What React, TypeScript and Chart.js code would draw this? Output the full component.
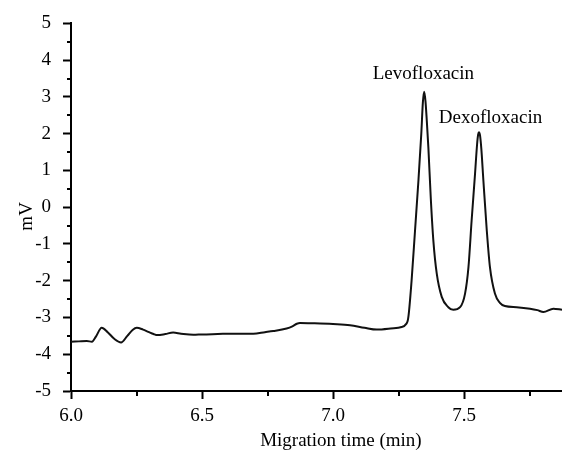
import React, { useEffect, useRef } from "react";
import { Chart, registerables } from "chart.js";

Chart.register(...registerables);

// Migration time (min)
const times: number[] = [
  6.0, 6.03, 6.06, 6.08, 6.095, 6.117, 6.14, 6.165, 6.191, 6.215, 6.235, 6.251,
  6.275, 6.295, 6.315, 6.33, 6.36, 6.39, 6.42, 6.467, 6.5, 6.56, 6.62, 6.696,
  6.74, 6.772, 6.823, 6.845, 6.862, 6.874, 6.93, 7.0, 7.065, 7.12, 7.167, 7.22,
  7.262, 7.276, 7.287, 7.3, 7.313, 7.326, 7.337, 7.343, 7.348, 7.353, 7.358, 7.364,
  7.373, 7.383, 7.396, 7.415, 7.44, 7.459, 7.485, 7.504, 7.517, 7.529, 7.542,
  7.55, 7.554, 7.557, 7.561, 7.566, 7.574, 7.587, 7.599, 7.618, 7.637, 7.656,
  7.701, 7.752, 7.78, 7.803, 7.841, 7.874,
];
// Signal (mV)
const signal: number[] = [
  -3.66, -3.65, -3.64, -3.66, -3.52, -3.28, -3.4, -3.58, -3.68, -3.5, -3.34, -3.28,
  -3.33, -3.39, -3.45, -3.48, -3.45, -3.41, -3.44, -3.47, -3.46, -3.45, -3.44, -3.44,
  -3.4, -3.37, -3.3, -3.24, -3.17, -3.15, -3.16, -3.18, -3.21, -3.28, -3.33, -3.3,
  -3.26, -3.2, -3.02, -1.99, -0.64, 0.72, 2.0, 2.85, 3.14, 2.88, 2.35, 1.62,
  0.27, -0.91, -1.81, -2.44, -2.72, -2.79, -2.72, -2.35, -1.63, -0.37, 0.9,
  1.72, 1.98, 2.04, 1.96, 1.6, 0.72, -0.64, -1.63, -2.35, -2.6, -2.69,
  -2.72, -2.76, -2.8, -2.85, -2.76, -2.79,
];

const peakNames: string[] = ["Levofloxacin", "Dexofloxacin"];
const peakLabelX: number[] = [7.345, 7.601];
const peakLabelY: number[] = [3.48, 2.3];

const X_MIN = 6.0;
const X_MAX = 7.874;
const Y_MIN = -5;
const Y_MAX = 5;
const X_TITLE = "Migration time (min)";
const Y_TITLE = "mV";

const FONT = "'Liberation Serif', 'Times New Roman', serif";

const isHalf = (v: number) => Math.abs(v * 2 - Math.round(v * 2)) < 1e-6;
const isInt = (v: number) => Math.abs(v - Math.round(v)) < 1e-6;

const overlay = {
  id: "overlay",
  afterDraw(chart: any) {
    const { ctx, chartArea } = chart;
    const xs = chart.scales.x;
    const ys = chart.scales.y;
    ctx.save();
    ctx.strokeStyle = "#000";
    ctx.lineWidth = 2;
    // minor ticks
    ys.ticks.forEach((t: any) => {
      if (!isInt(t.value)) {
        const py = Math.round(ys.getPixelForValue(t.value));
        ctx.beginPath();
        ctx.moveTo(chartArea.left - 4, py);
        ctx.lineTo(chartArea.left, py);
        ctx.stroke();
      }
    });
    xs.ticks.forEach((t: any) => {
      if (!isHalf(t.value)) {
        const px = Math.round(xs.getPixelForValue(t.value));
        ctx.beginPath();
        ctx.moveTo(px, chartArea.bottom);
        ctx.lineTo(px, chartArea.bottom + 5);
        ctx.stroke();
      }
    });
    ctx.fillStyle = "#000";
    ctx.font = `19px ${FONT}`;
    ctx.textAlign = "center";
    ctx.textBaseline = "alphabetic";
    peakNames.forEach((name, i) => {
      ctx.fillText(name, xs.getPixelForValue(peakLabelX[i]), ys.getPixelForValue(peakLabelY[i]));
    });
    // axis titles
    ctx.fillText(X_TITLE, xs.getPixelForValue(7.03), 446);
    ctx.save();
    ctx.translate(32, ys.getPixelForValue(-0.25));
    ctx.rotate(-Math.PI / 2);
    ctx.fillText(Y_TITLE, 0, 0);
    ctx.restore();
    ctx.restore();
  },
};

export default function App() {
  const ref = useRef<HTMLCanvasElement | null>(null);
  useEffect(() => {
    if (!ref.current) return;
    const chart = new Chart(ref.current, {
      type: "line",
      data: {
        datasets: [
          {
            data: times.map((t, i) => ({ x: t, y: signal[i] })),
            borderColor: "#111",
            borderWidth: 2,
            pointRadius: 0,
            cubicInterpolationMode: "monotone",
            fill: false,
          },
        ],
      },
      options: {
        animation: false,
        responsive: false,
        layout: { padding: { top: 22, right: 0, left: 0, bottom: 0 } },
        plugins: { legend: { display: false }, tooltip: { enabled: false } },
        scales: {
          x: {
            type: "linear",
            min: X_MIN,
            max: X_MAX,
            afterFit: (s: any) => {
              s.height = 63;
            },
            border: { display: true, color: "#000", width: 2 },
            grid: {
              display: true,
              drawOnChartArea: false,
              drawTicks: true,
              tickLength: 8,
              tickWidth: 2,
              tickColor: (c: any) => (isHalf(c.tick.value) ? "#000" : "rgba(0,0,0,0)"),
            },
            ticks: {
              stepSize: 0.25,
              includeBounds: false,
              autoSkip: false,
              maxRotation: 0,
              padding: 6,
              color: "#000",
              font: { family: FONT, size: 19 },
              callback: (v: any) => (isHalf(Number(v)) ? Number(v).toFixed(1) : ""),
            },
          },
          y: {
            type: "linear",
            min: Y_MIN,
            max: Y_MAX,
            afterFit: (s: any) => {
              s.width = 71;
            },
            border: { display: true, color: "#000", width: 2 },
            grid: {
              display: true,
              drawOnChartArea: false,
              drawTicks: true,
              tickLength: 8,
              tickWidth: 2,
              tickColor: (c: any) => (isInt(c.tick.value) ? "#000" : "rgba(0,0,0,0)"),
            },
            ticks: {
              stepSize: 0.5,
              autoSkip: false,
              padding: 12,
              color: "#000",
              font: { family: FONT, size: 19 },
              callback: (v: any) => (isInt(Number(v)) ? String(Math.round(Number(v))) : ""),
            },
          },
        },
      },
      plugins: [overlay],
    });
    return () => chart.destroy();
  }, []);
  return (
    <div style={{ position: "fixed", left: 0, top: 0, width: 562, height: 454, background: "#fff" }}>
      <canvas ref={ref} width={562} height={454} />
    </div>
  );
}
